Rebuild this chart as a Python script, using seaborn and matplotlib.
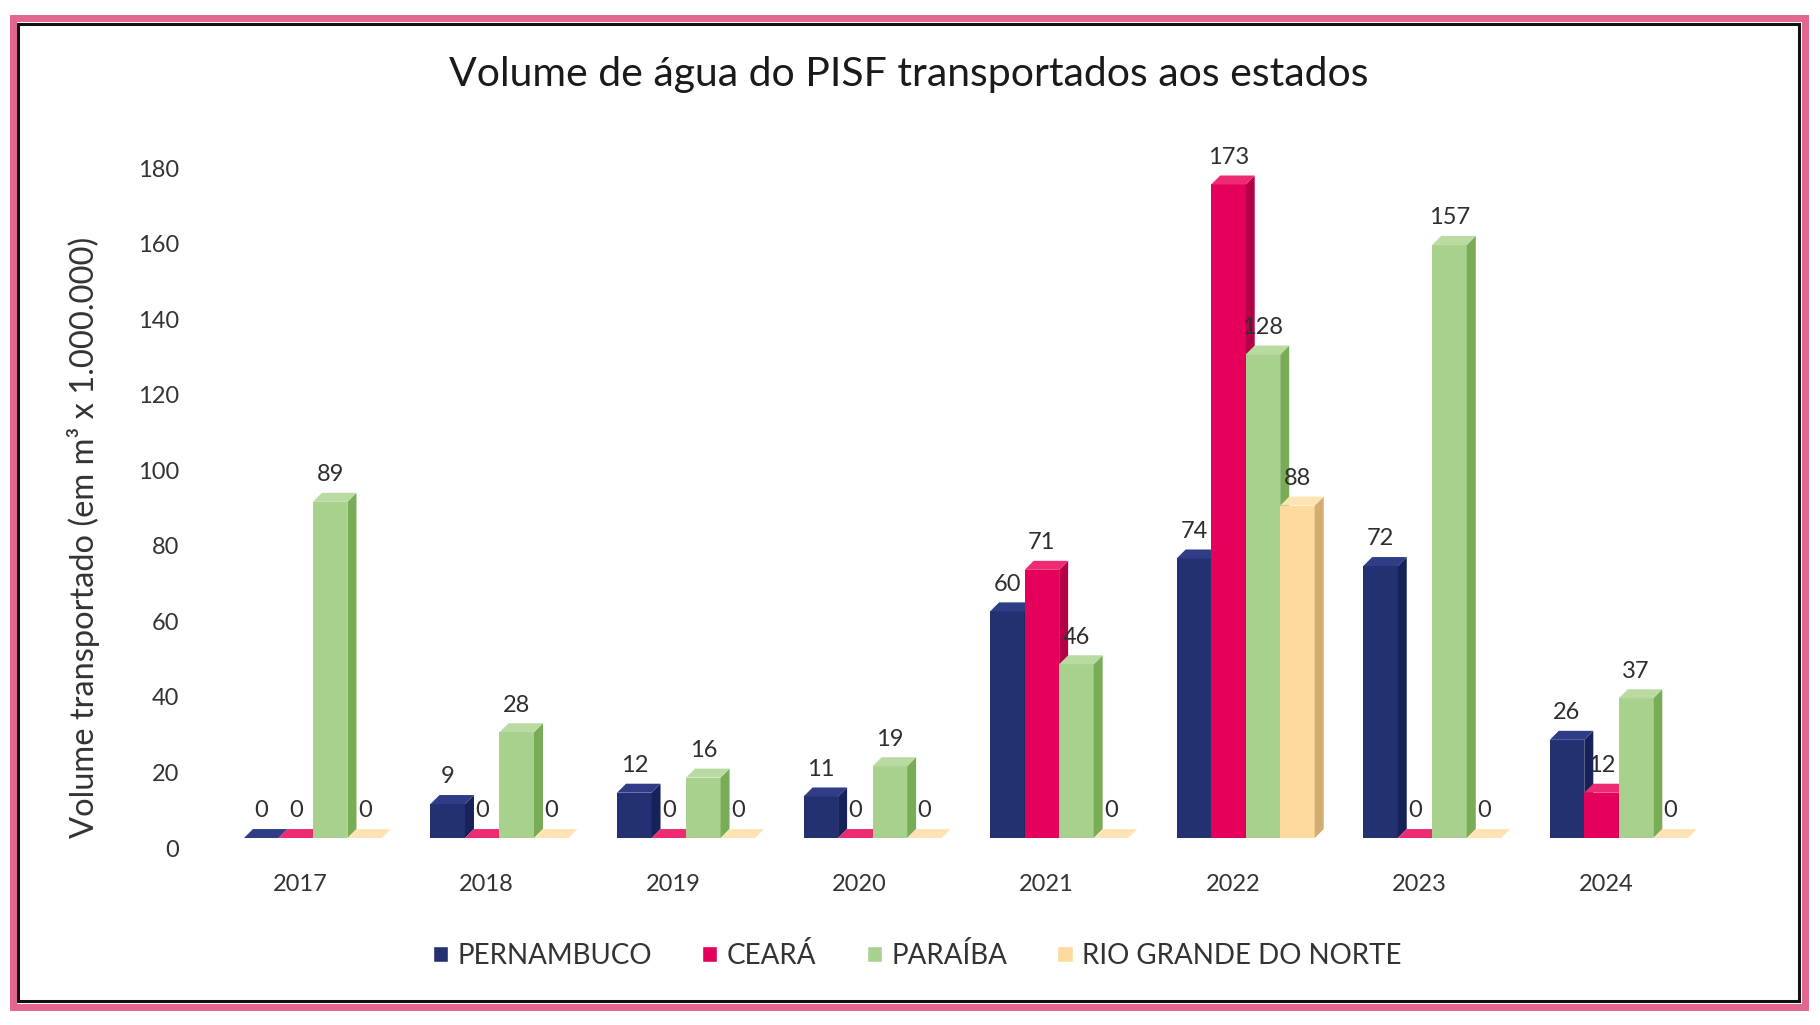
import matplotlib
matplotlib.use("Agg")
import matplotlib.pyplot as plt
import matplotlib.transforms as mtransforms
from matplotlib.patches import Polygon, Rectangle
import pandas as pd
import seaborn as sns

# dados (em m³ x 1.000.000)
anos = ['2017', '2018', '2019', '2020', '2021', '2022', '2023', '2024']
estados = ['PERNAMBUCO', 'CEARÁ', 'PARAÍBA', 'RIO GRANDE DO NORTE']
pernambuco = [0, 9, 12, 11, 60, 74, 72, 26]
ceara = [0, 0, 0, 0, 71, 173, 0, 12]
paraiba = [89, 28, 16, 19, 46, 128, 157, 37]
rio_grande_do_norte = [0, 0, 0, 0, 0, 88, 0, 0]

cores = ['#233173', '#E4005B', '#A9D18E', '#FFDA9E']
cores_lado = ['#17225A', '#B50048', '#79AC57', '#D3AC70']
cores_topo = ['#2E3D85', '#EE2A72', '#B9DBA2', '#FFE3B5']

df = pd.DataFrame({
    'ano': anos * 4,
    'estado': [e for e in estados for _ in anos],
    'volume': pernambuco + ceara + paraiba + rio_grande_do_norte,
})

sns.set_theme(style='white')
plt.rcParams['font.family'] = ['Lato', 'DejaVu Sans']

fig = plt.figure(figsize=(18.2, 10.25), dpi=100)
ax = fig.add_axes([0.1207, 0.1824, 0.82, 0.6634])

sns.barplot(data=df, x='ano', y='volume', hue='estado', hue_order=estados,
            palette=cores, width=0.74, saturation=1, errorbar=None, ax=ax)

ax.set_xlim(-0.5, 7.5)
ax.set_ylim(0, 180)
ax.set_yticks(range(0, 181, 20))
sns.despine(ax=ax, left=True, bottom=True)
ax.set_xlabel('')
ax.set_ylabel('Volume transportado (em m³ x 1.000.000)', fontsize=23.5, color='#333333')
ax.yaxis.set_label_coords(-0.08, 0.442)

handles, labels = ax.get_legend_handles_labels()
ax.get_legend().remove()

# efeito 3D: faces lateral e superior de cada barra
p0 = ax.transData.transform((0, 0))
p1 = ax.transData.transform((1, 1))
dx = 9 / (p1[0] - p0[0])
dy = 9 / (p1[1] - p0[1])

barras = []
for i, cont in enumerate(ax.containers):
    for patch in cont.patches:
        barras.append((patch.get_x(), i, patch))
barras.sort(key=lambda t: t[0])

for rank, (x0, i, patch) in enumerate(barras):
    z = 3 + rank * 0.01
    w = patch.get_width()
    h = patch.get_height()
    x1 = x0 + w
    patch.set_zorder(z)
    patch.set_edgecolor('none')
    lado = Polygon([(x1, 0), (x1 + dx, dy), (x1 + dx, h + dy), (x1, h)],
                   closed=True, facecolor=cores_lado[i], edgecolor='none', zorder=z + 0.001)
    topo = Polygon([(x0, h), (x0 + dx, h + dy), (x1 + dx, h + dy), (x1, h)],
                   closed=True, facecolor=cores_topo[i], edgecolor='none', zorder=z + 0.002)
    ax.add_patch(lado)
    ax.add_patch(topo)

for cont in ax.containers:
    textos = ax.bar_label(cont, fmt='%.0f', padding=12, fontsize=17, color='#2E2E2E')
    for t in textos:
        t.set_zorder(10)

ax.tick_params(axis='x', length=0, pad=26, labelsize=17, labelcolor='#333333')
ax.tick_params(axis='y', length=0, pad=29, labelsize=17, labelcolor='#333333')

off_x = mtransforms.ScaledTranslation(-13 / 100, 0, fig.dpi_scale_trans)
for lab in ax.get_xticklabels():
    lab.set_transform(lab.get_transform() + off_x)
off_y = mtransforms.ScaledTranslation(0, -10 / 100, fig.dpi_scale_trans)
for lab in ax.get_yticklabels():
    lab.set_transform(lab.get_transform() + off_y)

fig.text(0.4995, 0.927, 'Volume de água do PISF transportados aos estados',
         ha='center', va='center', fontsize=29.5, color='#1A1A1A')

fig.legend(handles, labels, loc='center', bbox_to_anchor=(0.504, 0.068), ncol=4,
           frameon=False, fontsize=20, handlelength=0.55, handleheight=0.55,
           handletextpad=0.35, columnspacing=1.8, labelcolor='#333333')

# moldura rosa com linha preta interna
fig.patches.append(Rectangle((0.00714, 0.01756), 0.9846, 0.9644, transform=fig.transFigure,
                             fill=False, edgecolor='#E2668E', linewidth=5))
fig.patches.append(Rectangle((0.00962, 0.02293), 0.97857, 0.9541, transform=fig.transFigure,
                             fill=False, edgecolor='#111111', linewidth=2.2))

fig.savefig('out.png', dpi=100)
